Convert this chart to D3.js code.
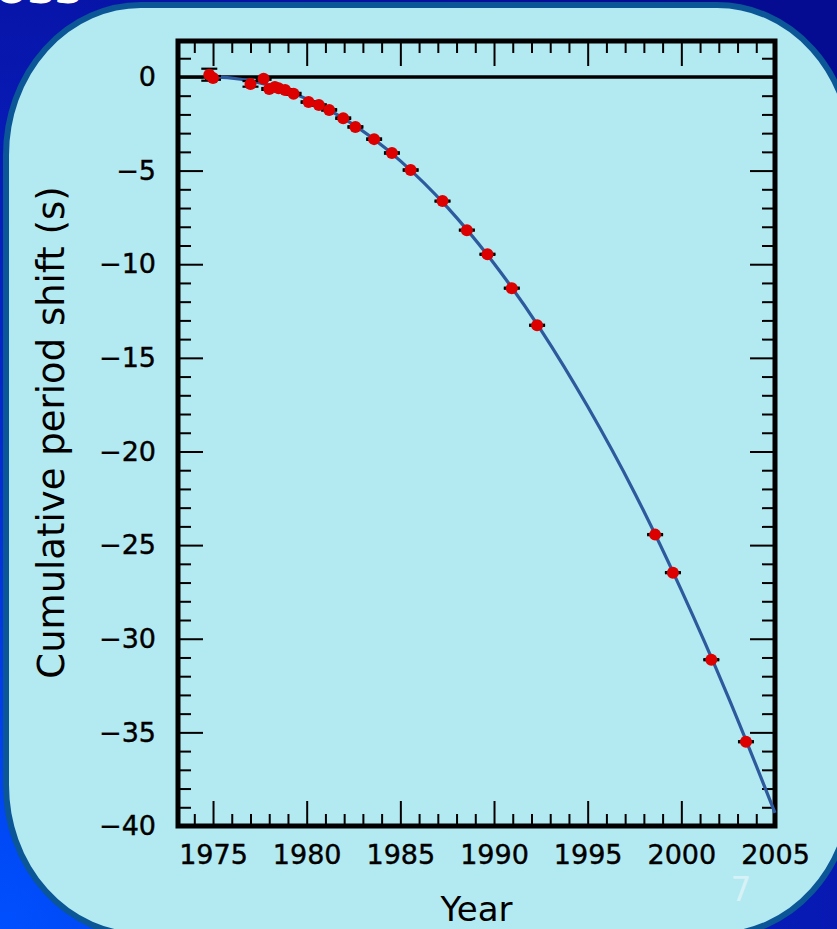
<!DOCTYPE html>
<html>
<head>
<meta charset="utf-8">
<script src="https://cdn.jsdelivr.net/npm/d3@7"></script>
<style>
  html, body { margin: 0; padding: 0; background: #0a1aa8; overflow: hidden; }
  svg { display: block; }
  text { font-family: "DejaVu Sans", Verdana, sans-serif; }
</style>
</head>
<body>
<svg id="chart" width="837" height="929"></svg>
<script>
// Observed timing data: epoch (year), cumulative shift of periastron time (s), uncertainty (s)
const obsYears = [1974.8, 1975.0, 1977.0, 1977.7, 1978.0, 1978.3, 1978.5, 1978.85, 1979.3,
                  1980.1, 1980.65, 1981.2, 1981.95, 1982.6, 1983.6, 1984.55, 1985.55,
                  1987.25, 1988.55, 1989.65, 1990.95, 1992.3, 1998.6, 1999.55, 2001.6, 2003.45];
const obsShift = [0.12, -0.05, -0.37, -0.1, -0.64, -0.53, -0.6, -0.7, -0.9,
                  -1.34, -1.5, -1.76, -2.2, -2.67, -3.32, -4.06, -4.97,
                  -6.63, -8.18, -9.47, -11.28, -13.26, -24.44, -26.47, -31.12, -35.5];
const obsError = [0.32, 0.1, 0.15, 0.05, 0.05, 0.05, 0.05, 0.05, 0.05,
                  0.04, 0.04, 0.04, 0.04, 0.04, 0.04, 0.04, 0.04,
                  0.03, 0.03, 0.03, 0.03, 0.03, 0.03, 0.03, 0.03, 0.03];

// General-relativity prediction curve (year, shift in s)
const curveYears = [1974.8, 1976, 1977, 1978, 1980, 1982, 1985, 1987.5, 1990, 1992.5, 1995, 1997.5, 2000, 2002.5, 2005];
const curveShift = [0, -0.06, -0.21, -0.44, -1.17, -2.23, -4.48, -6.95, -9.96, -13.5, -17.6, -22.2, -27.4, -33.1, -39.3];

// Axis ticks
const xMajor = [1975, 1980, 1985, 1990, 1995, 2000, 2005];
const xMinor = d3.range(1974, 2006, 1);
const yMajor = [0, -5, -10, -15, -20, -25, -30, -35, -40];
const yMinor = d3.range(-40, 2, 1);

const xTitle = "Year";
const yTitle = "Cumulative period shift (s)";
const slideNumber = "7";

const svg = d3.select("#chart");
const W = 837, H = 929;

// Slide background
const defs = svg.append("defs");
const grad = defs.append("radialGradient")
  .attr("id", "bg").attr("gradientUnits", "userSpaceOnUse")
  .attr("cx", 0).attr("cy", 929).attr("r", 1150);
grad.append("stop").attr("offset", 0).attr("stop-color", "#0050ff");
grad.append("stop").attr("offset", 0.45).attr("stop-color", "#0428cc");
grad.append("stop").attr("offset", 0.8).attr("stop-color", "#0815aa");
grad.append("stop").attr("offset", 1).attr("stop-color", "#060c92");
svg.append("rect").attr("width", W).attr("height", H).attr("fill", "url(#bg)");

// Slide title running off the top edge
svg.append("text")
  .attr("x", 82).attr("y", 3)
  .attr("text-anchor", "end")
  .attr("font-size", 46).attr("font-weight", "bold")
  .attr("fill", "#ffffff")
  .text("Loss");

// Rounded content panel
svg.append("rect")
  .attr("x", 6).attr("y", 5).attr("width", 846).attr("height", 930)
  .attr("rx", 135).attr("ry", 150)
  .attr("fill", "#b3e9f0")
  .attr("stroke", "#0b5696").attr("stroke-width", 6);

// Plot frame
const pLeft = 178, pRight = 775, pTop = 41, pBottom = 826;
const x = d3.scaleLinear().domain([1973.13, 2005]).range([pLeft, pRight]);
const y = d3.scaleLinear().domain([-40, 1.92]).range([pBottom, pTop]);

const g = svg.append("g");

function styleAxis(sel) {
  sel.select(".domain").remove();
  sel.selectAll(".tick line").attr("stroke", "#000").attr("stroke-width", 2);
  sel.selectAll(".tick text")
    .attr("fill", "#000")
    .attr("stroke", "#000").attr("stroke-width", 0.4)
    .attr("font-size", 27)
    .attr("font-family", "'DejaVu Sans', sans-serif");
}

const xMinorVals = xMinor.filter(v => !xMajor.includes(v) && v >= 1973.13);
const yMinorVals = yMinor.filter(v => !yMajor.includes(v));

// Bottom axis
g.append("g").attr("transform", `translate(0,${pBottom})`)
  .call(d3.axisBottom(x).tickValues(xMinorVals).tickSize(-12).tickFormat(""))
  .call(styleAxis);
g.append("g").attr("transform", `translate(0,${pBottom})`)
  .call(d3.axisBottom(x).tickValues(xMajor).tickSize(-25).tickPadding(19).tickFormat(d3.format("d")))
  .call(styleAxis);
// Top axis
g.append("g").attr("transform", `translate(0,${pTop})`)
  .call(d3.axisTop(x).tickValues(xMinorVals).tickSize(-12).tickFormat(""))
  .call(styleAxis);
g.append("g").attr("transform", `translate(0,${pTop})`)
  .call(d3.axisTop(x).tickValues(xMajor).tickSize(-25).tickFormat(""))
  .call(styleAxis);
// Left axis
g.append("g").attr("transform", `translate(${pLeft},0)`)
  .call(d3.axisLeft(y).tickValues(yMinorVals).tickSize(-13).tickFormat(""))
  .call(styleAxis);
g.append("g").attr("transform", `translate(${pLeft},0)`)
  .call(d3.axisLeft(y).tickValues(yMajor).tickSize(-25).tickPadding(22).tickFormat(d3.format("d")))
  .call(styleAxis);
// Right axis
g.append("g").attr("transform", `translate(${pRight},0)`)
  .call(d3.axisRight(y).tickValues(yMinorVals).tickSize(-13).tickFormat(""))
  .call(styleAxis);
g.append("g").attr("transform", `translate(${pRight},0)`)
  .call(d3.axisRight(y).tickValues(yMajor).tickSize(-25).tickFormat(""))
  .call(styleAxis);

// Zero line
g.append("line")
  .attr("x1", pLeft).attr("x2", pRight)
  .attr("y1", y(0)).attr("y2", y(0))
  .attr("stroke", "#000").attr("stroke-width", 3.5);

// Frame
g.append("rect")
  .attr("x", pLeft).attr("y", pTop)
  .attr("width", pRight - pLeft).attr("height", pBottom - pTop)
  .attr("fill", "none").attr("stroke", "#000").attr("stroke-width", 5);

// Prediction curve
const curvePts = curveYears.map((yr, i) => [yr, curveShift[i]]);
g.append("path")
  .datum(curvePts)
  .attr("fill", "none")
  .attr("stroke", "#2c5a9c")
  .attr("stroke-width", 3.2)
  .attr("d", d3.line().x(d => x(d[0])).y(d => y(d[1])).curve(d3.curveMonotoneX));

// Observations with error bars
const obs = obsYears.map((yr, i) => ({ yr, s: obsShift[i], e: obsError[i] }));
const eb = g.append("g").attr("stroke", "#000").attr("stroke-width", 2.2);
obs.forEach(d => {
  const cx = x(d.yr);
  eb.append("line").attr("x1", cx).attr("x2", cx).attr("y1", y(d.s + d.e)).attr("y2", y(d.s - d.e));
  eb.append("line").attr("x1", cx - 8).attr("x2", cx + 8).attr("y1", y(d.s + d.e)).attr("y2", y(d.s + d.e));
  eb.append("line").attr("x1", cx - 8).attr("x2", cx + 8).attr("y1", y(d.s - d.e)).attr("y2", y(d.s - d.e));
});
g.append("g").selectAll("circle").data(obs).join("circle")
  .attr("cx", d => x(d.yr)).attr("cy", d => y(d.s))
  .attr("r", 6).attr("fill", "#dd0000");

// Axis titles
svg.append("text")
  .attr("x", (pLeft + pRight) / 2).attr("y", 921)
  .attr("text-anchor", "middle").attr("font-size", 34).attr("fill", "#000")
  .text(xTitle);
svg.append("text")
  .attr("transform", `translate(64,${(pTop + pBottom) / 2 - 1}) rotate(-90)`)
  .attr("text-anchor", "middle").attr("font-size", 37).attr("fill", "#000")
  .text(yTitle);

// Slide number
svg.append("text")
  .attr("x", 741).attr("y", 901)
  .attr("text-anchor", "middle").attr("font-size", 33).attr("fill", "#d6f2f6")
  .text(slideNumber);
</script>
</body>
</html>
